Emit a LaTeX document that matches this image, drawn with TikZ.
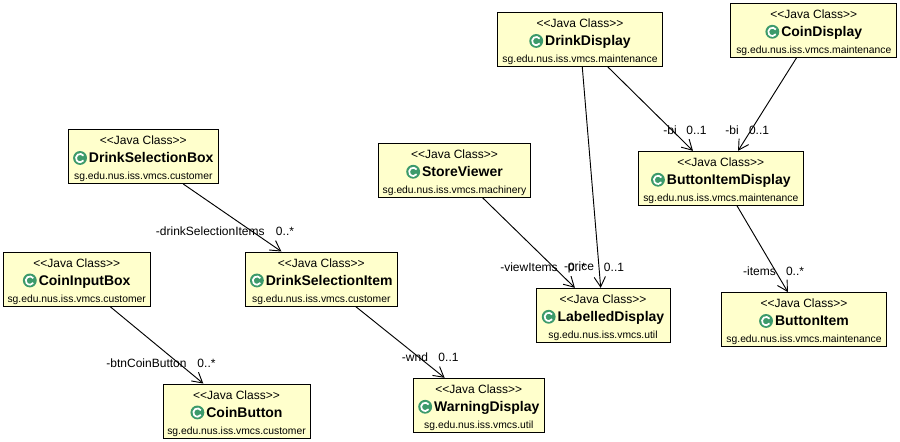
\documentclass[tikz,border=0pt]{standalone}
\usepackage{fontspec}
\setmainfont{Liberation Sans}
\usetikzlibrary{arrows.meta}
\definecolor{boxfill}{HTML}{FFFFCC}
\definecolor{iconfill}{HTML}{3C9A6B}
\newcommand{\ClassIcon}{\tikz[baseline=-3.6pt,x=1pt,y=1pt]{\fill[iconfill] (0,0) circle (5.2pt); \draw[white,line width=1.3pt] (2.6,1.7) arc (35:325:3.1pt);}\hspace{1.5pt}}
\newcommand{\ClassBox}[6]{\node[classbox,minimum width=#4*0.75pt] (#1) at (#2,#3) {\rule{0pt}{10pt}{\fontsize{9pt}{12pt}\selectfont <{}<Java Class>{}>}\\[1.6pt]{\ClassIcon\fontsize{10.5pt}{14pt}\selectfont\bfseries #5}\\[0.6pt]{\fontsize{7.75pt}{10pt}\selectfont #6}};}
\tikzset{
  classbox/.style={draw=black,fill=boxfill,line width=0.7pt,align=center,minimum height=40.5pt,inner sep=0pt},
  assoc/.style={-{Straight Barb[length=7.5pt,width=8.5pt]},line width=0.7pt},
  lbl/.style={font=\fontsize{9pt}{11pt}\selectfont,inner sep=0pt}
}
\begin{document}
\begin{tikzpicture}[x=0.75pt,y=-0.75pt]
  \useasboundingbox (0,0) rectangle (900,442);
  \ClassBox{drinkDisplay}{580}{39.5}{165.4}{DrinkDisplay}{sg.edu.nus.iss.vmcs.maintenance}
  \ClassBox{coinDisplay}{813.8}{30.3}{165.7}{CoinDisplay}{sg.edu.nus.iss.vmcs.maintenance}
  \ClassBox{drinkSelectionBox}{143.3}{156.5}{150}{DrinkSelectionBox}{sg.edu.nus.iss.vmcs.customer}
  \ClassBox{storeViewer}{454.5}{170.3}{152.4}{StoreViewer}{sg.edu.nus.iss.vmcs.machinery}
  \ClassBox{buttonItemDisplay}{720.8}{178.3}{165}{ButtonItemDisplay}{sg.edu.nus.iss.vmcs.maintenance}
  \ClassBox{coinInputBox}{76.7}{279}{147}{CoinInputBox}{sg.edu.nus.iss.vmcs.customer}
  \ClassBox{drinkSelectionItem}{321.3}{279}{152}{DrinkSelectionItem}{sg.edu.nus.iss.vmcs.customer}
  \ClassBox{labelledDisplay}{603}{315.3}{134}{LabelledDisplay}{sg.edu.nus.iss.vmcs.util}
  \ClassBox{buttonItem}{804}{319.5}{165.7}{ButtonItem}{sg.edu.nus.iss.vmcs.maintenance}
  \ClassBox{coinButton}{236.5}{411}{147}{CoinButton}{sg.edu.nus.iss.vmcs.customer}
  \ClassBox{warningDisplay}{478.8}{405.3}{131}{WarningDisplay}{sg.edu.nus.iss.vmcs.util}

  \draw[assoc] (drinkSelectionBox) -- (drinkSelectionItem);
  \draw[assoc] (coinInputBox) -- (coinButton);
  \draw[assoc] (drinkSelectionItem) -- (warningDisplay);
  \draw[assoc] (storeViewer) -- (labelledDisplay);
  \draw[assoc] (drinkDisplay) -- (labelledDisplay);
  \draw[assoc] (drinkDisplay) -- (buttonItemDisplay);
  \draw[assoc] (coinDisplay) -- (buttonItemDisplay);
  \draw[assoc] (buttonItemDisplay) -- (buttonItem);

  \node[lbl] (roleItems) at (210.3,231) {-drinkSelectionItems};
  \node[lbl] (multItems) at (285,231) {0..*};
  \node[lbl] (roleBtn) at (146.5,363) {-btnCoinButton};
  \node[lbl] (multBtn) at (206.5,363) {0..*};
  \node[lbl] (roleWnd) at (415,357) {-wnd};
  \node[lbl] (multWnd) at (448.5,357) {0..1};
  \node[lbl] (roleView) at (529,267) {-viewItems};
  \node[lbl] (multView) at (577,267) {0..*};
  \node[lbl] (rolePrice) at (579,267) {-price};
  \node[lbl] (multPrice) at (614,267) {0..1};
  \node[lbl] (roleBiA) at (670,130) {-bi};
  \node[lbl] (multBiA) at (696.5,130) {0..1};
  \node[lbl] (roleBiB) at (732,130) {-bi};
  \node[lbl] (multBiB) at (759,130) {0..1};
  \node[lbl] (roleBtnItems) at (759.5,271) {-items};
  \node[lbl] (multBtnItems) at (795,271) {0..*};
\end{tikzpicture}
\end{document}
